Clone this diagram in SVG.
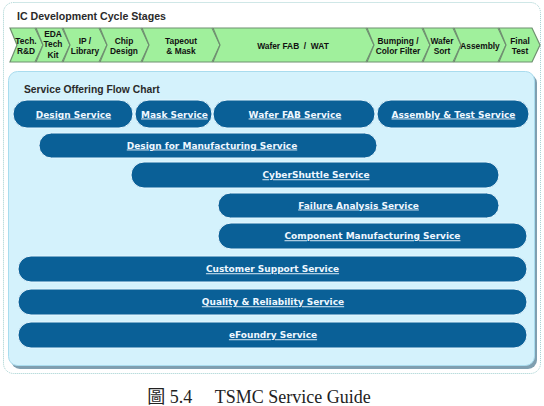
<svg xmlns="http://www.w3.org/2000/svg" width="544" height="406" viewBox="0 0 544 406">
<style>
.frame{fill:#ffffff;stroke:#9fcfcf;stroke-width:1;stroke-dasharray:1 1}
.ttl{font-family:"Liberation Sans",Arial,sans-serif;font-weight:bold;fill:#2a2a2a}
.chev{fill:#a0f09c;stroke:#6f8f70;stroke-width:1.2;stroke-linejoin:miter}
.ct{font-family:"Liberation Sans",Arial,sans-serif;font-weight:bold;font-size:8.4px;fill:#111;text-anchor:middle;white-space:pre}
.panel{fill:#d4f2fc;stroke:#a9dcee;stroke-width:1}
.shadow{fill:#7f9fb0}
.pill{fill:#0a6097;stroke:#e6f7ff;stroke-width:1}
.pt{font-family:"DejaVu Sans",Verdana,sans-serif;font-weight:bold;font-size:9px;fill:#eef7ff;text-anchor:middle;text-decoration:underline}
.cap{font-family:"Liberation Serif","Noto Sans CJK TC",serif;font-size:18px;fill:#222;text-anchor:middle;white-space:pre}
</style>
<rect width="544" height="406" fill="#ffffff"/>
<rect class="frame" x="3.5" y="2.5" width="537" height="371" rx="10"/>
<text class="ttl" x="17" y="19.5" font-size="10.6">IC Development Cycle Stages</text>

<g id="stages">
<g id="stage-tech"><polygon class="chev" points="10,28 35,28 43,45 35,62 10,62 17,45"/><text class="ct" x="26" y="43.5">Tech.</text><text class="ct" x="26" y="53.5">R&amp;D</text></g>
<g id="stage-eda"><polygon class="chev" points="36,28 62,28 70,45 62,62 36,62 43,45"/><text class="ct" x="53" y="36.5">EDA</text><text class="ct" x="53" y="47">Tech</text><text class="ct" x="53" y="57.5">Kit</text></g>
<g id="stage-ip"><polygon class="chev" points="63,28 99,28 107,45 99,62 63,62 70,45"/><text class="ct" x="85" y="43.5">IP /</text><text class="ct" x="85" y="53.5">Library</text></g>
<g id="stage-chip"><polygon class="chev" points="100,28 141,28 149,45 141,62 100,62 107,45"/><text class="ct" x="124" y="43.5">Chip</text><text class="ct" x="124" y="53.5">Design</text></g>
<g id="stage-tapeout"><polygon class="chev" points="142,28 212,28 220,45 212,62 142,62 149,45"/><text class="ct" x="181" y="43.5">Tapeout</text><text class="ct" x="181" y="53.5">&amp; Mask</text></g>
<g id="stage-waferfab"><polygon class="chev" points="213,28 366,28 374,45 366,62 213,62 220,45"/><text class="ct" x="293" y="48.5" font-size="8.6">Wafer FAB  /  WAT</text></g>
<g id="stage-bumping"><polygon class="chev" points="367,28 422,28 430,45 422,62 367,62 374,45"/><text class="ct" x="398" y="43.5">Bumping /</text><text class="ct" x="398" y="53.5">Color Filter</text></g>
<g id="stage-sort"><polygon class="chev" points="423,28 453,28 461,45 453,62 423,62 430,45"/><text class="ct" x="442" y="43.5">Wafer</text><text class="ct" x="442" y="53.5">Sort</text></g>
<g id="stage-assembly"><polygon class="chev" points="454,28 498,28 506,45 498,62 454,62 461,45"/><text class="ct" x="480" y="48.5">Assembly</text></g>
<g id="stage-final"><polygon class="chev" points="499,28 532,28 540,45 532,62 499,62 506,45"/><text class="ct" x="520" y="43.5">Final</text><text class="ct" x="520" y="53.5">Test</text></g>
</g>

<g id="panel">
<rect class="shadow" x="11" y="74" width="526" height="295" rx="9"/>
<rect class="panel" x="8.5" y="71.5" width="526" height="294" rx="9"/>
<text class="ttl" x="24" y="92.5" font-size="10.3">Service Offering Flow Chart</text>
</g>

<g id="connectors"/>

<g id="design-service"><rect class="pill" x="13" y="100" width="120" height="28" rx="14"/><text class="pt" x="73.5" y="117.5">Design Service</text></g>
<g id="mask-service"><rect class="pill" x="135" y="100" width="77" height="28" rx="14"/><text class="pt" x="174.5" y="117.5">Mask Service</text></g>
<g id="waferfab-service"><rect class="pill" x="213" y="100" width="162" height="28" rx="14"/><text class="pt" x="295" y="117.5">Wafer FAB Service</text></g>
<g id="assembly-test-service"><rect class="pill" x="377" y="100" width="152" height="28" rx="14"/><text class="pt" x="453.5" y="117.5">Assembly &amp; Test Service</text></g>
<g id="dfm-service"><rect class="pill" x="39" y="133" width="338" height="25" rx="12.5"/><text class="pt" x="212" y="148.5">Design for Manufacturing Service</text></g>
<g id="cybershuttle-service"><rect class="pill" x="131" y="162" width="368" height="26" rx="13"/><text class="pt" x="316" y="178.3">CyberShuttle Service</text></g>
<g id="failure-analysis-service"><rect class="pill" x="218" y="193" width="281" height="25" rx="12.5"/><text class="pt" x="358.5" y="208.5">Failure Analysis Service</text></g>
<g id="component-mfg-service"><rect class="pill" x="218" y="223" width="309" height="26" rx="13"/><text class="pt" x="372.5" y="239.3">Component Manufacturing Service</text></g>
<g id="customer-support-service"><rect class="pill" x="18" y="256" width="509" height="26" rx="13"/><text class="pt" x="272.5" y="272.3">Customer Support Service</text></g>
<g id="quality-reliability-service"><rect class="pill" x="18" y="289" width="509" height="26" rx="13"/><text class="pt" x="273" y="305.3">Quality &amp; Reliability Service</text></g>
<g id="efoundry-service"><rect class="pill" x="18" y="322" width="509" height="26" rx="13"/><text class="pt" x="273" y="338.3">eFoundry Service</text></g>

<text class="cap" x="259" y="403">圖 5.4　 TSMC Service Guide</text>
</svg>
